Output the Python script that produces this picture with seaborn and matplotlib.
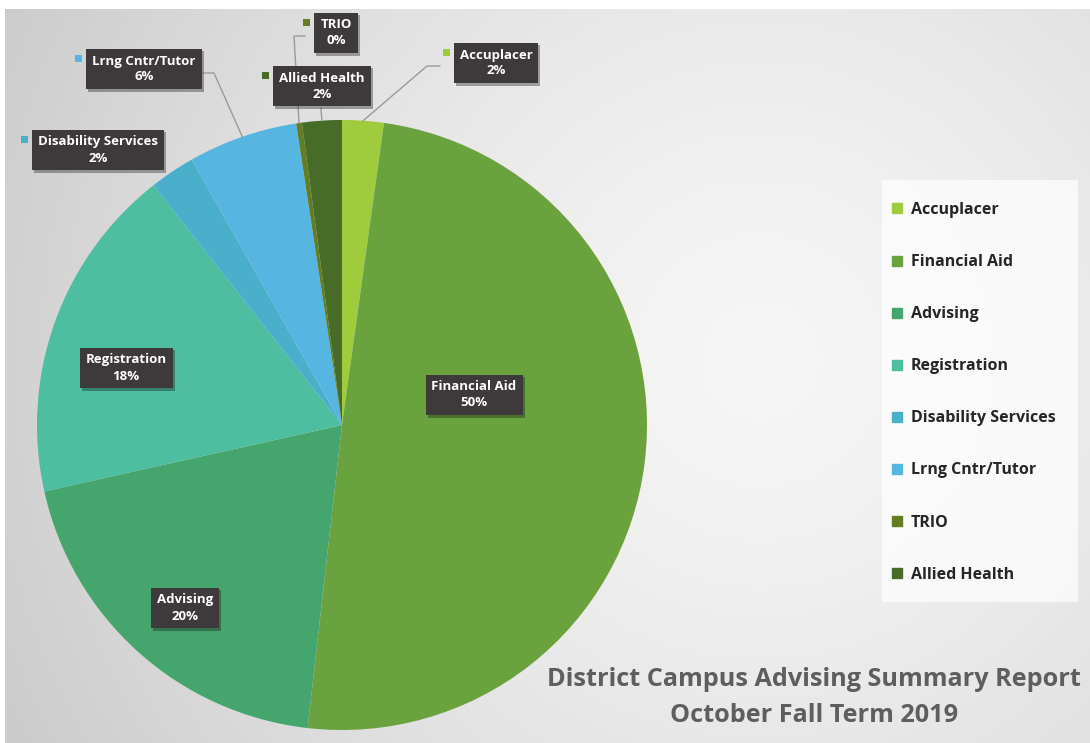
import numpy as np
import matplotlib
matplotlib.use('Agg')
import matplotlib.pyplot as plt
import seaborn as sns
from matplotlib import font_manager as fm
from matplotlib.patches import Rectangle
from matplotlib.lines import Line2D
from matplotlib.transforms import IdentityTransform
import matplotlib.patheffects as pe

# ---------------- data ----------------
categories = ['Accuplacer', 'Financial Aid', 'Advising', 'Registration',
              'Disability Services', 'Lrng Cntr/Tutor', 'TRIO', 'Allied Health']
shares = [2.2, 49.6, 19.7, 17.9, 2.4, 5.8, 0.3, 2.1]
slice_colors = ['#9fcc3c', '#6aa33d', '#44a66c', '#4dbea0',
                '#4aafcb', '#57b5e2', '#647d24', '#466c28']
title_lines = ['District Campus Advising Summary Report', 'October Fall Term 2019']

# ---------------- layout (pixels) ----------------
W, H = 1090, 743
cx, cy, R = 342, 425, 305
label_pos = {
    'Accuplacer': (496, 63),
    'Financial Aid': (474, 395),
    'Advising': (185, 608),
    'Registration': (126, 368),
    'Disability Services': (98, 150),
    'Lrng Cntr/Tutor': (144, 69),
    'TRIO': (336, 33),
    'Allied Health': (322, 86),
}
outside = ['Accuplacer', 'Disability Services', 'Lrng Cntr/Tutor', 'TRIO', 'Allied Health']
leaders = {
    'Accuplacer': [(440, 66), (427, 66)],
    'Allied Health': [(321, 108)],
    'TRIO': [(305, 36), (294, 36)],
    'Lrng Cntr/Tutor': [(203, 73), (214, 73)],
}

_wmap = {'bold': 700, 'semibold': 600, 'demibold': 600, 'demi': 600, 'heavy': 800,
         'extra bold': 800, 'ultrabold': 800, 'black': 900, 'normal': 400, 'regular': 400,
         'medium': 500, 'book': 400, 'light': 300}


def wnum(w):
    if isinstance(w, (int, float)):
        return int(w)
    return _wmap.get(str(w).lower(), 400)


bold_path = None
for cand in ['Open Sans', 'Noto Sans', 'Lato', 'Roboto', 'Liberation Sans', 'DejaVu Sans']:
    hits = [f for f in fm.fontManager.ttflist
            if f.name == cand and f.style == 'normal' and 650 <= wnum(f.weight) <= 750
            and 'condensed' not in f.fname.lower()]
    if hits:
        bold_path = hits[0].fname
        break


def bprop(size):
    if bold_path:
        return fm.FontProperties(fname=bold_path, size=size)
    return fm.FontProperties(family='DejaVu Sans', weight='bold', size=size)


sns.set_theme(style='white')
plt.rcParams['font.family'] = ['Open Sans', 'DejaVu Sans']
palette = sns.color_palette(slice_colors)

fig = plt.figure(figsize=(W / 100, H / 100), dpi=100, facecolor='white')

# background gradient
bg = fig.add_axes([5 / W, 0, 1 - 5 / W, (H - 9) / H], zorder=-10)
yy, xx = np.mgrid[9:H, 5:W]
d = np.hypot(xx - 760, yy - 360)
val = (246 - 44 * (d / 860) ** 1.4) / 255.0
bg.imshow(np.dstack([val, val, val]), aspect='auto', interpolation='bilinear')
bg.axis('off')

# pie
ax = fig.add_axes([(cx - R) / W, (H - cy - R) / H, 2 * R / W, 2 * R / H])
wedges, _ = ax.pie(shares, colors=palette, startangle=90, counterclock=False,
                   radius=1, wedgeprops=dict(linewidth=0))
ax.set_xlim(-1, 1)
ax.set_ylim(-1, 1)
ax.axis('off')


def p2d(px, py):
    return ((px - cx) / R, (cy - py) / R)


total = sum(shares)
texts = {}
for name, val_, w in zip(categories, shares, wedges):
    px, py = label_pos[name]
    t = ax.text(*p2d(px, py), f"{name}\n{val_ / total * 100:.0f}%", ha='center', va='center',
                color='white', fontproperties=bprop(9.5), linespacing=1.3,
                bbox=dict(boxstyle='square,pad=0.45', fc='#3e393a', ec='none'),
                zorder=6, clip_on=False)
    t.get_bbox_patch().set_path_effects([pe.withSimplePatchShadow(offset=(1.5, -1.5), alpha=0.35)])
    texts[name] = t
    if name in leaders:
        ang = np.deg2rad((w.theta1 + w.theta2) / 2)
        pts = [p2d(*p) for p in leaders[name]] + [(np.cos(ang), np.sin(ang))]
        xs, ys = zip(*pts)
        ax.plot(xs, ys, color='#9a9a9a', lw=1, zorder=4, clip_on=False)

fig.canvas.draw()
renderer = fig.canvas.get_renderer()
for name in outside:
    bb = texts[name].get_bbox_patch().get_window_extent(renderer)
    c = slice_colors[categories.index(name)]
    s = 7
    fig.add_artist(Rectangle((bb.x0 - 4 - s, bb.y1 - 10 - s / 2), s, s, fc=c, ec='none',
                             transform=IdentityTransform()))

# legend panel
fig.add_artist(Rectangle((882 / W, 1 - 602 / H), 196 / W, 422 / H, transform=fig.transFigure,
                         fc='white', ec='none', alpha=0.7, zorder=1))
handles = [Line2D([], [], marker='s', ls='none', color=c, markersize=6.5) for c in slice_colors]
leg = fig.legend(handles, categories, loc='upper left', bbox_to_anchor=(891 / W, 1 - 202 / H),
                 frameon=False, borderpad=0, borderaxespad=0, labelspacing=2.26,
                 handlelength=0.8, handletextpad=0.45, prop=bprop(11.5))
for txt in leg.get_texts():
    txt.set_color('#262626')
leg.set_zorder(2)

# title
for line, yp in zip(title_lines, [680, 716]):
    fig.text(814 / W, 1 - yp / H, line, ha='center', va='center', fontproperties=bprop(18.2),
             color='#5e5e5e')

fig.savefig('out.png', dpi=100, facecolor='white')
